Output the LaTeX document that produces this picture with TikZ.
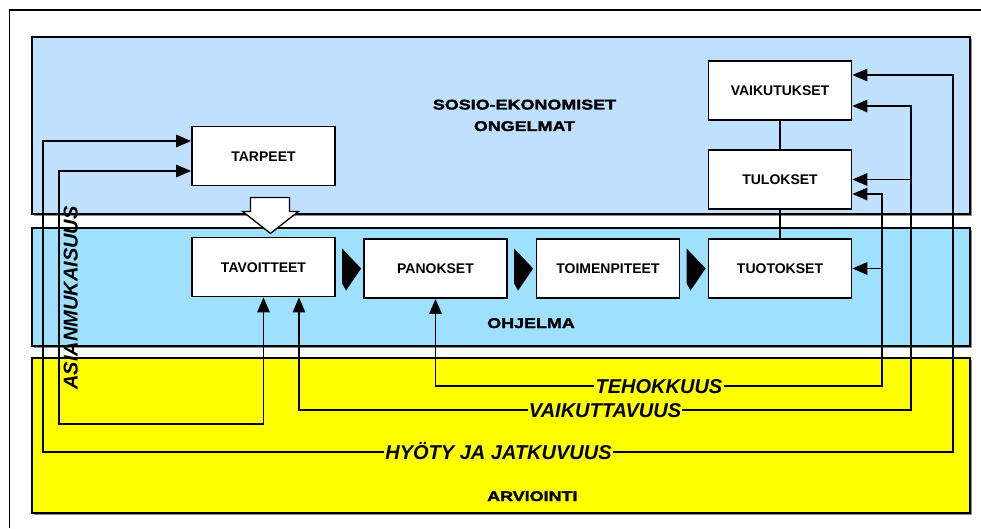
\documentclass[tikz,border=0pt]{standalone}
\usepackage{fontspec}
\usepackage{graphicx}
\setmainfont{Liberation Sans}
\newfontfamily\bandfont[FakeStretch=1.28,FakeBold=2]{Liberation Sans Bold}
\usetikzlibrary{arrows.meta,calc}

\definecolor{topband}{RGB}{192,224,255}
\definecolor{midband}{RGB}{160,224,255}
\definecolor{evalband}{RGB}{255,255,0}

\begin{document}
\begin{tikzpicture}[x=1pt,y=-1pt,
  box/.style={draw,line width=1.8pt,fill=white,minimum width=143pt,minimum height=59pt,
    inner sep=0pt,text height=10pt,text depth=0pt,
    font=\bfseries\fontsize{14}{16}\selectfont},
  band/.style={draw,line width=2.2pt},
  shade/.style={fill=black!45},
  link/.style={line width=1.5pt},
  tip/.style={},
  arr/.style={link,-{Triangle[length=15pt,width=12.5pt]}},
  both/.style={link,{Triangle[length=15pt,width=12.5pt]}-{Triangle[length=15pt,width=12.5pt]}},
  crit/.style={font=\bfseries\itshape\fontsize{20}{22}\selectfont,
    inner xsep=1pt,inner ysep=0pt,text height=14.3pt,text depth=0pt},
  bandlabel/.style={font=\bandfont\fontsize{14}{21.5}\selectfont,inner sep=0pt},
  chevron/.style={fill=black},
  hollow/.style={draw,fill=white,line width=1.3pt,line join=miter}
]
\useasboundingbox (0,0) rectangle (981,528);
\fill[white] (0,0) rectangle (981,528);

% outer frame (runs off the page on the right and at the bottom)
\draw[line width=1.2pt] (9.5,528) -- (9.5,10) -- (981,10);

% the three bands
\fill[shade] (33.5,38.5) rectangle (971.5,215.5);
\draw[band,fill=topband] (32,37) rectangle (970,214);
\fill[shade] (33.5,229.5) rectangle (971.5,347.5);
\draw[band,fill=midband] (32,228) rectangle (970,346);
\fill[shade] (33.5,359.5) rectangle (971.5,514.5);
\draw[band,fill=evalband] (32,358) rectangle (970,513);

% band titles
\node[bandlabel,anchor=north,align=center] (socio) at (524.5,99.5) {SOSIO-EKONOMISET\\ONGELMAT};
\node[bandlabel,anchor=west,text height=10pt,text depth=0pt] (prog) at (487,323) {OHJELMA};
\node[bandlabel,anchor=west,text height=10pt,text depth=0pt] (eval) at (487,496) {ARVIOINTI};

% boxes
\node[box] (tar) at (263.5,156) {TARPEET};
\node[box] (tav) at (263.5,267) {TAVOITTEET};
\node[box] (pan) at (435.5,268.5) {PANOKSET};
\node[box] (toi) at (608,268.5) {TOIMENPITEET};
\node[box] (tuo) at (780,268.5) {TUOTOKSET};
\node[box] (tul) at (780,179.5) {TULOKSET};
\node[box] (vai) at (780,90.5) {VAIKUTUKSET};

% hollow block arrow from needs to objectives
\draw[hollow] ($(tar.south)+(6.5,11)$) ++(-19.5,0) -- ++(39,0) -- ++(0,14) -- ++(9,0)
  -- ++(-28,22) -- ++(-28,-22) -- ++(8,0) -- cycle;

% chevrons along the programme chain
\fill[chevron] ([xshift=-2pt]pan.west) -- ++(-19,-20) -- ++(0,35) -- ++(4,7) -- cycle;
\fill[chevron] ([xshift=-2.5pt]toi.west) -- ++(-19,-20) -- ++(0,35) -- ++(4,7) -- cycle;
\fill[chevron] ([xshift=-2pt]tuo.west) -- ++(-19,-20) -- ++(0,35) -- ++(4,7) -- cycle;

% result chain
\draw[link] (vai) -- (tul);
\draw[link] (tul) -- (tuo);

% evaluation criteria
\node[crit] (teh) at (659,386) {TEHOKKUUS};
\node[crit] (vtv) at (605,410) {VAIKUTTAVUUS};
\node[crit] (hyo) at (498.5,452) {HYÖTY JA JATKUVUUS};
\node[crit,rotate=90] (asi) at (70.5,298) {ASIANMUKAISUUS};

\coordinate (tehR) at (882,386);
\coordinate (vtvR) at (911,410);
\coordinate (hyoR) at (953,452);
\coordinate (hyoL) at (43,452);
\coordinate (asiL) at (59,424);

% efficiency
\draw[arr] (teh.west) -| (pan.south);
\draw[arr] (teh.east) -- (tehR) |- ($(tul.east)+(0,14.5)$);
\draw[arr] (tehR |- tuo.east) -- (tuo.east);

% effectiveness
\draw[arr] (vtv.west) -| ([xshift=35.5pt]tav.south);
\draw[arr] (vtv.east) -- (vtvR) |- ($(vai.east)+(0,15.5)$);
\draw[arr] (vtvR |- tul.east) -- (tul.east);

% utility and sustainability
\draw[arr] (hyo.east) -- (hyoR) |- ($(vai.east)+(0,-15.5)$);
\draw[arr] (hyo.west) -- (hyoL) |- ($(tar.west)+(0,-15)$);

% relevance
\draw[both] ($(tar.west)+(0,15)$) -| (asiL) -| (tav.south);
\end{tikzpicture}
\end{document}
